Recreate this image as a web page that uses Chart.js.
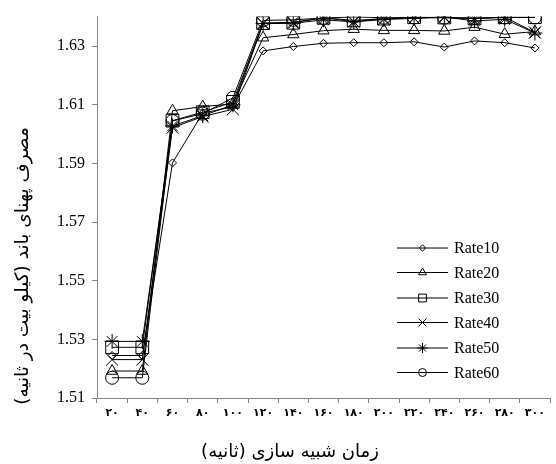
<!DOCTYPE html>
<html><head><meta charset="utf-8">
<script src="https://cdn.jsdelivr.net/npm/chart.js@4.4.0/dist/chart.umd.min.js"></script>
<style>
html,body{margin:0;padding:0;background:#fff;overflow:hidden;}
#wrap{width:560px;height:464px;position:relative;}
</style></head><body>
<div id="wrap"><canvas id="c"></canvas></div>
<script>
// ---- data ----
const categories = ['۲۰','۴۰','۶۰','۸۰','۱۰۰','۱۲۰','۱۴۰','۱۶۰','۱۸۰','۲۰۰','۲۲۰','۲۴۰','۲۶۰','۲۸۰','۳۰۰'];
const yTicks = [1.51, 1.53, 1.55, 1.57, 1.59, 1.61, 1.63];
const seriesNames = ['Rate10','Rate20','Rate30','Rate40','Rate50','Rate60'];
const rate10 = [1.5245,1.5245,1.5902,1.6072,1.6093,1.6284,1.6299,1.6310,1.6312,1.6312,1.6315,1.6297,1.6318,1.6312,1.6294];
const rate20 = [1.5192,1.5192,1.6080,1.6094,1.6103,1.6329,1.6340,1.6353,1.6358,1.6354,1.6354,1.6352,1.6365,1.6341,1.6350];
const rate30 = [1.5273,1.5273,1.6046,1.6075,1.6110,1.6379,1.6380,1.6397,1.6388,1.6394,1.6399,1.6398,1.6395,1.6399,1.6399];
const rate40 = [1.5231,1.5231,1.6022,1.6060,1.6085,1.6378,1.6382,1.6397,1.6384,1.6394,1.6396,1.6398,1.6394,1.6399,1.6347];
const rate50 = [1.5293,1.5293,1.6028,1.6063,1.6100,1.6377,1.6378,1.6390,1.6383,1.6391,1.6395,1.6400,1.6386,1.6392,1.6345];
const rate60 = [1.5169,1.5169,1.6045,1.6070,1.6124,1.6388,1.6390,1.6396,1.6400,1.6397,1.6398,1.6397,1.6396,1.6398,1.6398];
const xTitle = 'زمان شبیه سازی (ثانیه)';
const yTitle = 'مصرف پهنای باند (کیلو بیت در ثانیه)';

// ---- styles ----
const seriesData = [rate10, rate20, rate30, rate40, rate50, rate60];
const markers = [
  {style:'rectRot', r:4,   lr:3.2},
  {style:'triangle', r:6.5, lr:4.5},
  {style:'rect', r:9,   lr:5.5},
  {style:'crossRot', r:8.5, lr:5.5},
  {style:'star', r:7.5, lr:5},
  {style:'circle', r:6.5, lr:4}
];

const datasets = seriesData.map((d, i) => ({
  label: seriesNames[i],
  data: d,
  borderColor: '#000',
  borderWidth: 1,
  tension: 0,
  fill: false,
  pointStyle: markers[i].style,
  pointRadius: markers[i].r,
  pointHoverRadius: markers[i].r,
  pointBorderColor: '#000',
  pointBackgroundColor: 'rgba(0,0,0,0)',
  pointBorderWidth: 1
}));

const decor = {
  id: 'decor',
  afterDraw(chart) {
    const ctx = chart.ctx;
    ctx.save();
    // legend
    const rows = [248, 272.5, 298, 322.5, 348, 372.5];
    chart.data.datasets.forEach((ds, i) => {
      const y = rows[i];
      ctx.strokeStyle = '#000';
      ctx.lineWidth = 1;
      ctx.beginPath();
      ctx.moveTo(397, y);
      ctx.lineTo(448, y);
      ctx.stroke();
      ctx.fillStyle = 'rgba(0,0,0,0)';
      Chart.helpers.drawPoint(ctx, {pointStyle: markers[i].style, radius: markers[i].lr, rotation: 0, borderWidth: 1}, 422.5, y);
      ctx.fillStyle = '#000';
      ctx.font = '16px "Liberation Serif"';
      ctx.textAlign = 'left';
      ctx.textBaseline = 'middle';
      ctx.fillText(ds.label, 454, y + 1);
    });
    // axis titles
    ctx.fillStyle = '#000';
    ctx.direction = 'rtl';
    ctx.font = '18px "DejaVu Sans"';
    ctx.textAlign = 'center';
    ctx.textBaseline = 'middle';
    ctx.fillText(xTitle, 290, 452);
    ctx.translate(23, 266);
    ctx.rotate(-Math.PI / 2);
    ctx.font = '18.5px "DejaVu Sans"';
    ctx.fillText(yTitle, 0, 0);
    ctx.restore();
  }
};

new Chart(document.getElementById('c'), {
  type: 'line',
  data: { labels: categories, datasets },
  options: {
    responsive: true,
    maintainAspectRatio: false,
    animation: false,
    devicePixelRatio: 1,
    layout: { padding: { left: 0, top: 13, right: 0, bottom: 0 } },
    plugins: { legend: { display: false }, tooltip: { enabled: false } },
    scales: {
      x: {
        type: 'category',
        offset: true,
        grid: { offset: true, drawOnChartArea: false, drawTicks: true, tickLength: 5, color: '#868686' },
        border: { color: '#868686', width: 1 },
        ticks: { font: { family: 'DejaVu Sans', size: 11, weight: 'bold' }, color: '#000', padding: 4, maxRotation: 0, autoSkip: false },
        afterFit(s) { s.height = 66; }
      },
      y: {
        type: 'linear',
        min: 1.51,
        max: 1.6401,
        afterBuildTicks(s) { s.ticks = yTicks.map(v => ({ value: v })); },
        grid: { drawOnChartArea: false, drawTicks: true, tickLength: 5, color: '#868686' },
        border: { color: '#868686', width: 1 },
        ticks: { callback: v => Number(v).toFixed(2), font: { family: 'Liberation Serif', size: 16 }, color: '#000', padding: 7 },
        afterFit(s) { s.width = 97; }
      }
    }
  },
  plugins: [decor]
});
</script>
</body></html>
